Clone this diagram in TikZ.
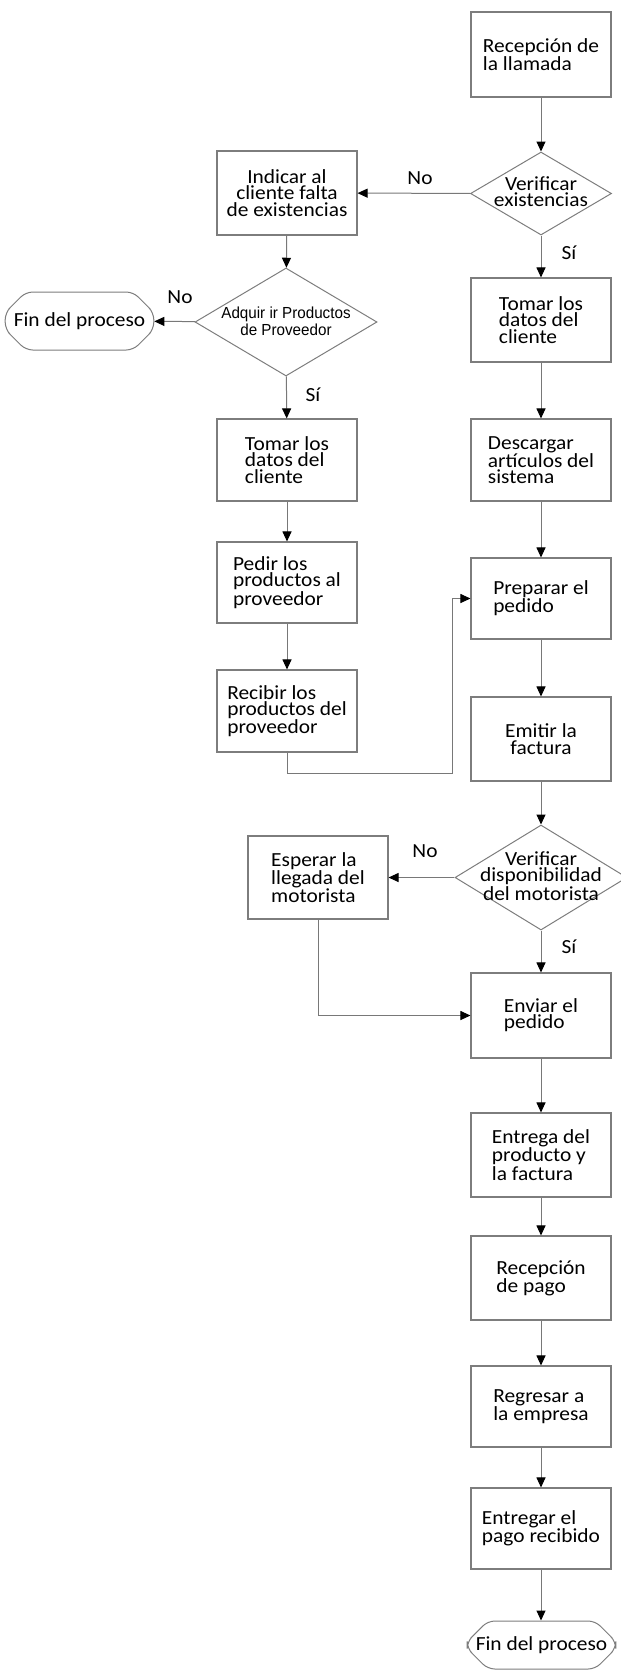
\documentclass[tikz,border=0pt]{standalone}
\usepackage{fontspec}
\setmainfont{Carlito}[FakeStretch=1.07]
\newfontfamily\arialf{Liberation Sans}[FakeStretch=0.95]
\usetikzlibrary{arrows.meta,shapes.geometric,shapes.misc}
\definecolor{boxgray}{RGB}{125,125,125}
\definecolor{linegray}{RGB}{120,120,120}
\newcommand\boxfont{\fontsize{20}{16.3}\selectfont}
\begin{document}
\begin{tikzpicture}[x=1pt,y=-1pt,
  box/.style={draw=boxgray, line width=1.1pt, rectangle, minimum width=140pt, inner sep=0pt, font=\boxfont},
  dia/.style={draw=boxgray, line width=1pt, diamond, inner sep=0pt},
  dtxt/.style={inner sep=0pt, font=\boxfont, align=center},
  endbox/.style={draw=boxgray, line width=1pt, chamfered rectangle, chamfered rectangle xsep=14pt, chamfered rectangle ysep=12pt, rounded corners=7pt, inner sep=0pt, font=\boxfont},
  lbl/.style={inner sep=0pt, font=\boxfont},
  arr/.style={draw=linegray, line width=1pt, -{Triangle[length=10pt,width=9pt,color=black,fill=black]}}
]
\useasboundingbox (0,0) rectangle (621,1671);

% right column
\node[box, align=left, minimum height=85pt] (rec1) at (541,54.5) {Recepción de\\la llamada};
\node[dia, minimum width=141pt, minimum height=83pt] (v1) at (541,193.5) {};
\node[dtxt] (v1t) at (541,192) {Verificar\\existencias};
\node[box, align=left, minimum height=84pt] (tom1) at (541,320) {Tomar los\\datos del\\cliente};
\node[box, align=left, minimum height=82pt] (desc) at (541,460) {Descargar\\artículos del\\sistema};
\node[box, align=left, minimum height=81pt] (prep) at (541,598.5) {Preparar el\\pedido};
\node[box, align=center, minimum height=84pt] (emit) at (541,739) {Emitir la\\factura};
\node[dia, minimum width=172pt, minimum height=105pt] (v2) at (541,877.5) {};
\node[dtxt] (v2t) at (541,876) {Verificar\\disponibilidad\\del motorista};
\node[box, align=left, minimum height=85pt] (env) at (541,1015.5) {Enviar el\\pedido};
\node[box, align=left, minimum height=84pt] (entr) at (541,1155) {Entrega del\\producto y\\la factura};
\node[box, align=left, minimum height=84pt] (recp) at (541,1278) {Recepción\\de pago};
\node[box, align=left, minimum height=81pt] (regr) at (541,1406.5) {Regresar a\\la empresa};
\node[box, align=left, minimum height=81pt] (entp) at (541,1528.5) {Entregar el\\pago recibido};
\node[endbox, minimum width=139pt, minimum height=48pt] (fin2) at (541.5,1645) {Fin del proceso};

% left column
\node[box, align=center, minimum height=84pt] (ind) at (287,193) {Indicar al\\cliente falta\\de existencias};
\node[dia, minimum width=182pt, minimum height=108pt] (adq) at (286,322) {};
\node[dtxt, font=\arialf\fontsize{16}{17}\selectfont] (adqt) at (286,321) {Adquir ir Productos\\de Proveedor};
\node[endbox, minimum width=145pt, minimum height=58pt] (fin1) at (79.5,321) {Fin del proceso};
\node[box, align=left, minimum height=82pt] (tom2) at (287,460) {Tomar los\\datos del\\cliente};
\node[box, align=left, minimum height=81pt] (ped) at (287,582.5) {Pedir los\\productos al\\proveedor};
\node[box, align=left, minimum height=82pt] (rec2) at (287,711) {Recibir los\\productos del\\proveedor};
\node[box, align=left, minimum height=83pt] (esp) at (318,877.5) {Esperar la\\llegada del\\motorista};

% labels
\node[lbl] (n1) at (420,178) {No};
\node[lbl] (s1) at (569,253) {Sí};
\node[lbl] (n2) at (180,297) {No};
\node[lbl] (s2) at (313,395) {Sí};
\node[lbl] (n3) at (425,851) {No};
\node[lbl] (s3) at (569,947) {Sí};

\coordinate (k1) at (452,773);

% connectors
\draw[arr] (rec1) -- (v1);
\draw[arr] (v1) -- (ind);
\draw[arr] (v1) -- (tom1);
\draw[arr] (tom1) -- (desc);
\draw[arr] (desc) -- (prep);
\draw[arr] (prep) -- (emit);
\draw[arr] (emit) -- (v2);
\draw[arr] (v2) -- (esp);
\draw[arr] (v2) -- (env);
\draw[arr] (env) -- (entr);
\draw[arr] (entr) -- (recp);
\draw[arr] (recp) -- (regr);
\draw[arr] (regr) -- (entp);
\draw[arr] (entp.south) -- (entp.south |- fin2.north);
\draw[arr] (ind) -- (adq);
\draw[arr] (adq) -- (fin1);
\draw[arr] (adq) -- (tom2);
\draw[arr] (tom2) -- (ped);
\draw[arr] (ped) -- (rec2);
\draw[arr] (rec2.south) |- (k1) |- (prep.west);
\draw[arr] (esp.south) |- (env.west);
\end{tikzpicture}
\end{document}
